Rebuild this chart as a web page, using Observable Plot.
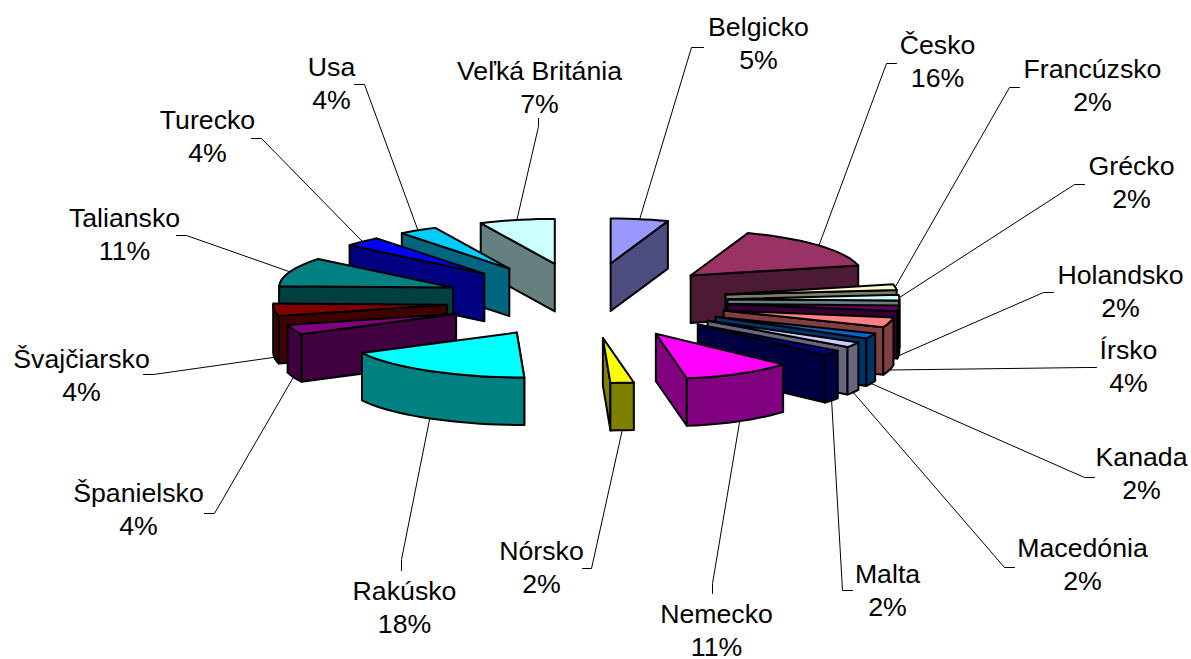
<!DOCTYPE html>
<html><head><meta charset="utf-8">
<script src="https://cdn.jsdelivr.net/npm/d3@7"></script>
<script src="https://cdn.jsdelivr.net/npm/@observablehq/plot@0.6"></script>
<style>html,body{margin:0;padding:0;background:#fff}svg{display:block}</style>
</head><body><div id="chart"></div>
<script>
const categories = ["Belgicko","Česko","Francúzsko","Grécko","Holandsko","Írsko","Kanada","Macedónia","Malta","Nemecko","Nórsko","Rakúsko","Španielsko","Švajčiarsko","Taliansko","Turecko","Usa","Veľká Británia"];
const values = [5.4,16.0,2.0,2.1,2.0,3.6,1.95,1.95,1.95,10.8,2.2,17.55,3.5,4.4,10.5,3.5,3.6,7.0];
const colors = ["#9999FF","#993366","#FFFFCC","#CCFFFF","#660066","#FF8080","#0066CC","#CCCCFF","#000080","#FF00FF","#FFFF00","#00FFFF","#800080","#800000","#008080","#0000FF","#00CCFF","#CCFFFF"];
// back-to-front painting order of the slices
const paintOrder = [0,1,2,3,4,5,6,7,8,17,16,15,14,13,12,9,10,11];
// label anchor points and leader elbows
const labelAnchors = [[758,41.5],[937,59.5],[1092,83.5],[1131,180.5],[1120,289.5],[1128,364.5],[1141,471.5],[1082,562.5],[887,588.5],[716,628.5],[541,565.5],[404,605.5],[138,507.5],[81,373.5],[124,232.5],[207,134.5],[331,81.5],[539,85.5]];
const leaderElbows = [[[691,47],[703,47]],[[886,63],[896,63]],[[1009,87],[1019,87]],[[1074,184],[1084,184]],[[1043,292],[1053,292]],[[1086,367],[1096,367]],[[1084,477],[1094,477]],[[1004,567],[1014,567]],[[842,590],[852,590]],[[712,583],[712,593]],[[591,568],[582,568]],[[401,559],[401,570]],[[214,513],[204,513]],[[153,374],[143,374]],[[186,235],[176,235]],[[261,138],[251,138]],[[364,84],[354,84]],[[538,126],[538,118]]];

// 3-D pie model
const RAD = Math.PI/180, DEPTH = 47.5, RY = 45;
const total = d3.sum(values);
let acc = 0;
const slices = values.map((v,i)=>{const a0=acc/total*360; acc+=v; const a1=acc/total*360; return {i,a0,a1,mid:(a0+a1)/2};});
function apex(s){
  const t=s.mid*RAD, c=Math.cos(t), n=Math.sin(t);
  const x = n>=0 ? 587+137*n+3*n**4+5.5*Math.max(0,-c)
                 : 587+150*n+8*n**4+8*Math.max(0,-c);
  return [x, 300-37.5*c];
}
function rim(s,a){
  const [ax,ay]=apex(s), t=a*RAD, c=Math.cos(t), n=Math.sin(t);
  return [ax+(n>=0?172:174)*n+7*c**4*(c<0?1:0), ay-RY*c];
}
const down = p=>[p[0],p[1]+DEPTH];
function arc(s,a0,a1){
  const n=Math.max(2,Math.ceil((a1-a0)/3)), pts=[];
  for(let k=0;k<=n;k++) pts.push(rim(s,a0+(a1-a0)*k/n));
  return pts;
}
const shade = hex=>{const c=d3.rgb(hex); return d3.rgb(c.r/2,c.g/2,c.b/2).formatHex();};
const polys=[];
let pid=0;
const addPoly=(pts,fill)=>{const id=pid++; pts.forEach(p=>polys.push({id,x:p[0],y:p[1],fill}));};
for(const idx of paintOrder){
  const s=slices[idx], A=apex(s), col=colors[idx], dark=shade(col);
  const edge = s.mid<180 ? s.a1 : s.a0;
  const R = rim(s,edge);
  addPoly([A,R,down(R),down(A)],dark);
  const f0=Math.max(s.a0,90), f1=Math.min(s.a1,270);
  if(f1>f0){
    const top=arc(s,f0,f1);
    addPoly([...top,...top.slice().reverse().map(down)],dark);
  }
  addPoly([A,...arc(s,s.a0,s.a1)],col);
}
// leaders
const leaders=[];
slices.forEach((s,i)=>{
  let p=rim(s,s.mid);
  if(s.mid>90&&s.mid<270) p=down(p);
  const e=leaderElbows[i];
  [p,e[0],e[1]].forEach(q=>leaders.push({i,x:q[0],y:q[1]}));
});
const labels=categories.map((c,i)=>({text:`${c}\n${Math.round(values[i])}%`,x:labelAnchors[i][0],y:labelAnchors[i][1]}));

const chart=Plot.plot({
  width:1191,height:659,margin:0,
  x:{domain:[0,1191],range:[0,1191],axis:null},
  y:{domain:[0,659],range:[0,659],axis:null},
  color:{type:"identity"},
  marks:[
    Plot.line(leaders,{x:"x",y:"y",z:"i",stroke:"#000",strokeWidth:1}),
    Plot.line(polys,{x:"x",y:"y",z:"id",fill:"fill",stroke:"#000",strokeWidth:2,curve:"linear-closed",strokeLinejoin:"round"}),
    Plot.text(labels,{x:"x",y:"y",text:"text",fontSize:26.7,lineHeight:1.236,textAnchor:"middle",fontFamily:"Liberation Sans, Arial, sans-serif",fill:"#000"})
  ]
});
document.getElementById("chart").append(chart);
</script></body></html>
